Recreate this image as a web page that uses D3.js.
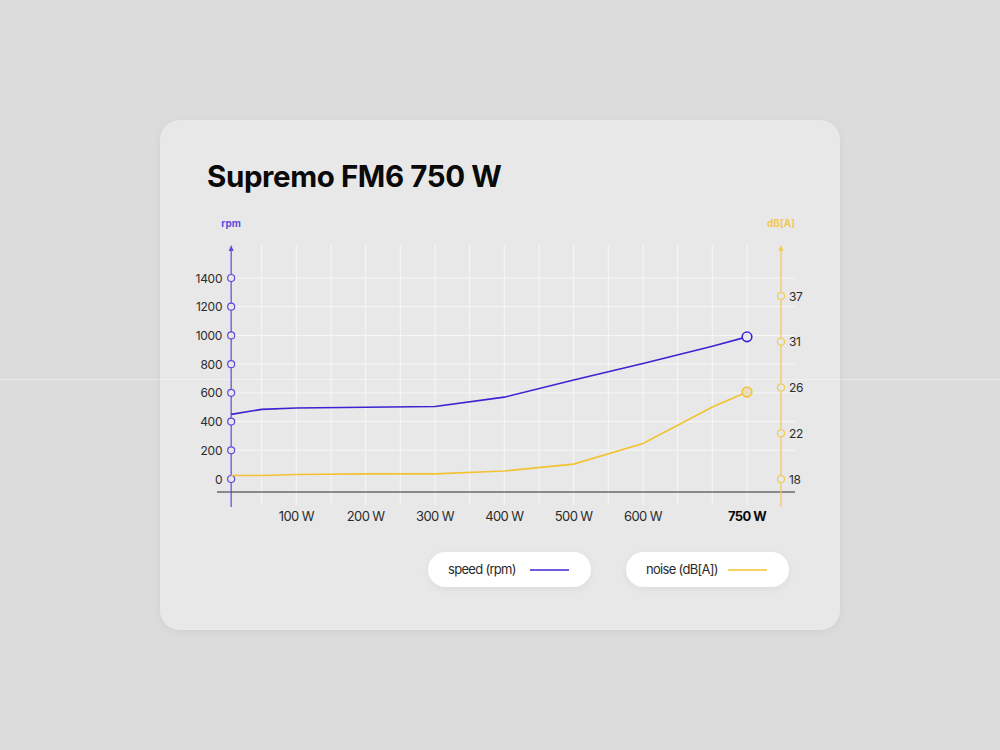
<!DOCTYPE html>
<html>
<head>
<meta charset="utf-8">
<script src="https://cdn.jsdelivr.net/npm/d3@7"></script>
<style>
  html, body { margin: 0; padding: 0; background: #dcdcdc; }
  svg { display: block; }
  text { font-family: Inter, "Liberation Sans", Arial, sans-serif; }
</style>
</head>
<body>
<svg id="chart" width="1000" height="750"></svg>
<script>
// load points (W) and the two measured series
const loads = [6, 50, 100, 200, 300, 400, 500, 600, 700, 750];
const speedRpm = [450, 485, 495, 500, 505, 570, 690, 805, 925, 990];
const noiseDb = [18.3, 18.3, 18.4, 18.45, 18.45, 18.7, 19.3, 21.1, 24.3, 25.6];

const xTickValues = [100, 200, 300, 400, 500, 600, 750];
const rpmTicks = [0, 200, 400, 600, 800, 1000, 1200, 1400];
const dbTicks = [18, 22, 26, 31, 37];

const blue = '#3a24d2';
const blueAxis = '#5b4bdc';
const yellow = '#f3c232';
const yellowAxis = '#f1c953';

const svg = d3.select('#chart');

// shadow for card + legend pills
const defs = svg.append('defs');
const sh = defs.append('filter').attr('id', 'shadow')
  .attr('x', '-20%').attr('y', '-20%').attr('width', '140%').attr('height', '160%');
sh.append('feDropShadow').attr('dx', 0).attr('dy', 2).attr('stdDeviation', 3)
  .attr('flood-color', '#000').attr('flood-opacity', 0.06);

svg.append('rect')
  .attr('x', 160).attr('y', 120).attr('width', 680).attr('height', 510)
  .attr('rx', 20)
  .attr('fill', '#e8e8e8')
  .attr('filter', 'url(#shadow)');

svg.append('text')
  .attr('x', 207).attr('y', 187)
  .attr('font-size', 29.5).attr('font-weight', 700)
  .attr('letter-spacing', -0.4)
  .attr('fill', '#0a0a0a')
  .text('Supremo FM6 750 W');

const x = d3.scaleLinear().domain([0, 750]).range([227, 747]);
const yRpm = d3.scaleLinear().domain([0, 1400]).range([479, 278]);
const dbStep = 45.75;
const yDb = d3.scaleLinear().domain(dbTicks).range(dbTicks.map((d, i) => 479 - i * dbStep));

const leftX = x(loads[0]);
const rightX = 781;
const gridTop = 245, gridBottom = 505, baseY = 492;

// grid
const grid = svg.append('g').attr('stroke', '#f7f7f7').attr('stroke-width', 1);
grid.selectAll('.h').data(rpmTicks.slice(1)).enter().append('line')
  .attr('x1', leftX).attr('x2', 795)
  .attr('y1', d => yRpm(d)).attr('y2', d => yRpm(d));
grid.selectAll('.v').data(d3.range(50, 751, 50)).enter().append('line')
  .attr('x1', d => x(d)).attr('x2', d => x(d))
  .attr('y1', gridTop).attr('y2', gridBottom);

// faint light streak across the whole picture
svg.append('line')
  .attr('x1', 0).attr('x2', 1000).attr('y1', 379.5).attr('y2', 379.5)
  .attr('stroke', '#fff').attr('stroke-opacity', 0.35).attr('stroke-width', 1);

// baseline
svg.append('line')
  .attr('x1', 217).attr('x2', 795).attr('y1', baseY).attr('y2', baseY)
  .attr('stroke', '#2a2a2a').attr('stroke-width', 1);

// x labels
svg.append('g').selectAll('text').data(xTickValues).enter().append('text')
  .attr('x', d => x(d)).attr('y', 521)
  .attr('text-anchor', 'middle')
  .attr('font-size', 13)
  .attr('letter-spacing', -0.6)
  .attr('font-weight', d => d === 750 ? 700 : 400)
  .attr('fill', d => d === 750 ? '#0a0a0a' : '#2b2b2b')
  .text(d => d + ' W');

// vertical axes with arrows
function drawAxis(ax, color, label, ticks, scale, side) {
  const g = svg.append('g');
  g.append('line')
    .attr('x1', ax).attr('x2', ax).attr('y1', gridTop + 2).attr('y2', 507)
    .attr('stroke', color).attr('stroke-width', 1.2);
  g.append('path')
    .attr('d', `M${ax - 2.5},${gridTop + 6}L${ax},${gridTop}L${ax + 2.5},${gridTop + 6}Z`)
    .attr('fill', color);
  g.append('text')
    .attr('x', ax).attr('y', 227)
    .attr('text-anchor', 'middle')
    .attr('font-size', 10).attr('font-weight', 700)
    .attr('fill', color)
    .text(label);
  g.selectAll('circle').data(ticks).enter().append('circle')
    .attr('cx', ax).attr('cy', d => scale(d)).attr('r', 3.5)
    .attr('fill', '#e8e8e8').attr('stroke', color).attr('stroke-width', 1.2);
  g.selectAll('.lbl').data(ticks).enter().append('text')
    .attr('x', side === 'left' ? ax - 9 : ax + 8)
    .attr('y', d => scale(d) + 4.5)
    .attr('text-anchor', side === 'left' ? 'end' : 'start')
    .attr('font-size', 12)
    .attr('letter-spacing', -0.3)
    .attr('fill', '#2b2b2b')
    .text(d => d);
}
drawAxis(leftX, blueAxis, 'rpm', rpmTicks, yRpm, 'left');
drawAxis(rightX, yellowAxis, 'dB[A]', dbTicks, yDb, 'right');

// series lines
const speedLine = d3.line().x((d, i) => x(loads[i])).y(d => yRpm(d));
const noiseLine = d3.line().x((d, i) => x(loads[i])).y(d => yDb(d));

svg.append('path').datum(noiseDb)
  .attr('d', noiseLine).attr('fill', 'none')
  .attr('stroke', yellow).attr('stroke-width', 1.6);
svg.append('path').datum(speedRpm)
  .attr('d', speedLine).attr('fill', 'none')
  .attr('stroke', blue).attr('stroke-width', 1.6);

const last = loads.length - 1;
svg.append('circle')
  .attr('cx', x(loads[last])).attr('cy', yRpm(speedRpm[last])).attr('r', 4.8)
  .attr('fill', '#ebebf3').attr('stroke', blue).attr('stroke-width', 1.6);
svg.append('circle')
  .attr('cx', x(loads[last])).attr('cy', yDb(noiseDb[last])).attr('r', 4.8)
  .attr('fill', '#e9dfc4').attr('stroke', yellow).attr('stroke-width', 1.6);

// legend
const legendItems = [
  { label: 'speed (rpm)', color: blue, x: 428 },
  { label: 'noise (dB[A])', color: yellow, x: 626 }
];
const lg = svg.append('g').selectAll('g').data(legendItems).enter().append('g')
  .attr('transform', d => `translate(${d.x},552)`);
lg.append('rect')
  .attr('width', 163).attr('height', 35).attr('rx', 17.5)
  .attr('fill', '#fff').attr('filter', 'url(#shadow)');
lg.append('text')
  .attr('x', 20).attr('y', 22)
  .attr('font-size', 13).attr('letter-spacing', -0.7)
  .attr('fill', '#2b2b2b')
  .text(d => d.label);
lg.append('line')
  .attr('x1', 102).attr('x2', 141).attr('y1', 18).attr('y2', 18)
  .attr('stroke', d => d.color).attr('stroke-width', 1.6);
</script>
</body>
</html>
